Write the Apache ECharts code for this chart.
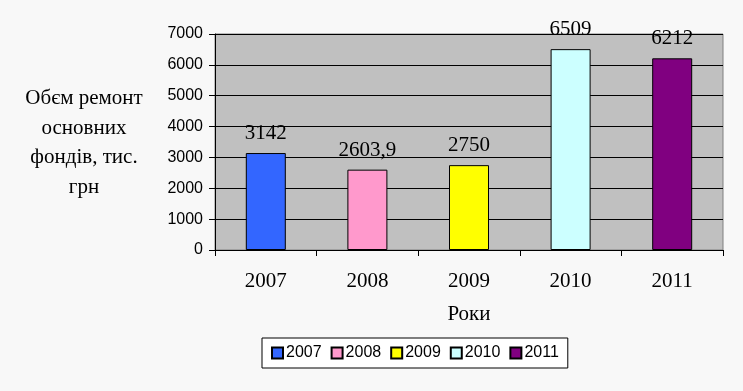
<!DOCTYPE html>
<html>
<head>
<meta charset="utf-8">
<script src="https://cdn.jsdelivr.net/npm/echarts@6/dist/echarts.min.js"></script>
<style>
html,body{margin:0;padding:0;background:#ffffff;}
#c{width:743px;height:391px;}
</style>
</head>
<body>
<div id="c"></div>
<script>
var categories = ['2007', '2008', '2009', '2010', '2011'];
var values = [3142, 2603.9, 2750, 6509, 6212];
var yTicks = [0, 1000, 2000, 3000, 4000, 5000, 6000, 7000];
var yAxisTitle = 'Обєм ремонт\nосновних\nфондів, тис.\nгрн';
var xAxisTitle = 'Роки';
var colors = ['#3366ff', '#ff99cc', '#ffff00', '#ccffff', '#800080'];

var chart = echarts.init(document.getElementById('c'));
var series = categories.map(function (name, i) {
  var d = categories.map(function (c, j) { return j === i ? values[i] : null; });
  return {
    name: name,
    type: 'bar',
    data: d,
    barWidth: 40,
    barGap: '-100%',
    itemStyle: { color: colors[i], borderColor: '#000', borderWidth: 1 },
    label: {
      show: true,
      position: 'top',
      distance: 9,
      fontFamily: 'Liberation Serif',
      fontSize: 21,
      color: '#000',
      formatter: function (p) { return String(p.value).replace('.', ','); }
    }
  };
});

chart.setOption({
  backgroundColor: '#f8f8f8',
  animation: false,
  grid: {
    left: 215, right: 20, top: 34, bottom: 141,
    show: true, backgroundColor: '#c0c0c0', borderColor: '#808080', borderWidth: 1
  },
  xAxis: {
    type: 'category',
    data: categories,
    name: xAxisTitle,
    nameLocation: 'middle',
    nameGap: 54,
    nameTextStyle: { fontFamily: 'Liberation Serif', fontSize: 21, color: '#000' },
    axisLine: { lineStyle: { color: '#000', width: 1 } },
    axisTick: { show: true, length: 6, lineStyle: { color: '#000' } },
    axisLabel: { margin: 21, fontFamily: 'Liberation Serif', fontSize: 21, color: '#000' },
    splitLine: { show: false }
  },
  yAxis: {
    type: 'value',
    min: yTicks[0],
    max: yTicks[yTicks.length - 1],
    interval: yTicks[1] - yTicks[0],
    axisLine: { show: true, lineStyle: { color: '#000', width: 1 } },
    axisTick: { show: true, length: 6, lineStyle: { color: '#000' } },
    axisLabel: {
      margin: 12, fontFamily: 'Liberation Sans', fontSize: 16, color: '#000',
      formatter: function (v) { return String(v); }
    },
    splitLine: { show: true, lineStyle: { color: '#000', width: 1 } }
  },
  legend: {
    left: 262,
    top: 338,
    orient: 'horizontal',
    backgroundColor: '#ffffff',
    borderColor: '#000',
    borderWidth: 1,
    borderRadius: 0,
    padding: [7, 9, 7, 9],
    itemWidth: 11,
    itemHeight: 11,
    itemGap: 9,
    icon: 'rect',
    textStyle: { fontFamily: 'Liberation Sans', fontSize: 16, color: '#000', padding: [0, 0, 0, -2] },
    data: categories
  },
  graphic: [{
    type: 'text',
    x: 84,
    y: 84,
    style: {
      text: yAxisTitle,
      x: 0,
      y: 0,
      textAlign: 'center',
      fontFamily: 'Liberation Serif',
      fontSize: 21,
      lineHeight: 29.5,
      fill: '#000'
    }
  }],
  series: series
});
</script>
</body>
</html>
